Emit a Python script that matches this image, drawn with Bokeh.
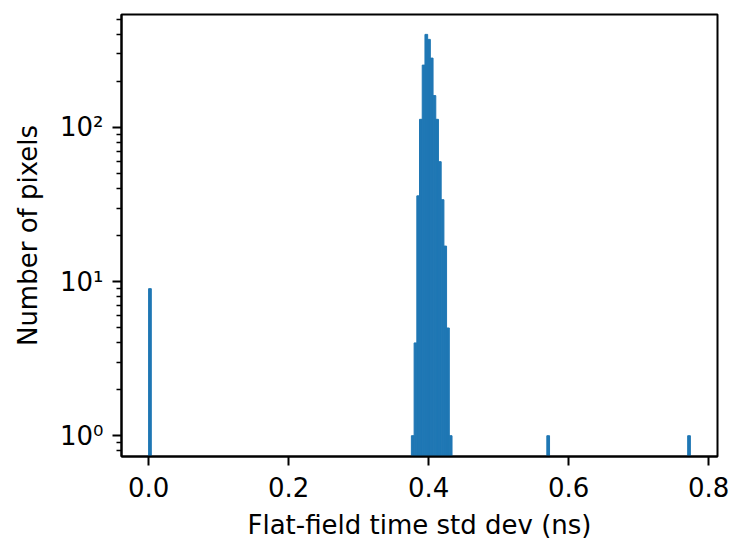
from bokeh.plotting import figure
from bokeh.models import Range1d, FixedTicker
from bokeh.embed import file_html
from bokeh.resources import INLINE

# Histogram data: left edges of non-empty bins (ns) and counts
bin_width = 0.00387
bin_left = [0.0000, 0.3754, 0.3793, 0.3832, 0.3870, 0.3909, 0.3948, 0.3986,
            0.4025, 0.4064, 0.4102, 0.4141, 0.4180, 0.4218, 0.4257, 0.4296,
            0.5689, 0.7701]
counts = [9, 1, 4, 36, 113, 254, 402, 373, 282, 161, 113, 60, 34, 17, 5, 1, 1, 1]

x_ticks = [0.0, 0.2, 0.4, 0.6, 0.8]
x_tick_labels = ["0.0", "0.2", "0.4", "0.6", "0.8"]
y_ticks = [1, 10, 100]
y_tick_labels = ["10⁰", "10¹", "10²"]
y_minor = [0.8, 0.9] + [k for k in range(2, 10)] + [10 * k for k in range(2, 10)] + [100 * k for k in range(2, 6)]

FONT = "DejaVu Sans"
FS = "26px"

p = figure(width=738, height=542, output_backend="svg", toolbar_location=None,
           y_axis_type="log",
           x_range=Range1d(-0.0387, 0.8127), y_range=Range1d(0.733, 541))
p.min_border_left = 121
p.min_border_right = 21
p.min_border_top = 14
p.min_border_bottom = 82

right = [b + bin_width for b in bin_left]
bottom = [0.1] * len(counts)
p.quad(left=bin_left, right=right, top=counts, bottom=bottom,
       fill_color="#1f77b4", line_color="#1f77b4", line_width=1)

p.grid.visible = False
p.outline_line_color = "black"
p.outline_line_width = 2
p.outline_line_alpha = 1
p.background_fill_color = "white"
p.border_fill_color = "white"

p.xaxis.ticker = FixedTicker(ticks=x_ticks)
p.xaxis.major_label_overrides = {t: l for t, l in zip(x_ticks, x_tick_labels)}
p.yaxis.ticker = FixedTicker(ticks=y_ticks, minor_ticks=y_minor)
p.yaxis.major_label_overrides = {t: l for t, l in zip(y_ticks, y_tick_labels)}

p.xaxis.axis_label = "Flat-field time std dev (ns)"
p.yaxis.axis_label = "Number of pixels"

for ax in (p.xaxis[0], p.yaxis[0]):
    ax.axis_line_width = 2
    ax.axis_line_color = "black"
    ax.major_tick_in = 0
    ax.major_tick_out = 9
    ax.major_tick_line_width = 2
    ax.minor_tick_in = 0
    ax.minor_tick_out = 5
    ax.minor_tick_line_width = 1.5
    ax.major_label_text_font = FONT
    ax.major_label_text_font_size = FS
    ax.major_label_text_color = "black"
    ax.axis_label_text_font = FONT
    ax.axis_label_text_font_size = FS
    ax.axis_label_text_font_style = "normal"
    ax.axis_label_text_color = "black"

p.xaxis.minor_tick_out = 0
p.xaxis.major_label_standoff = 11
p.xaxis.axis_label_standoff = 10
p.yaxis.major_label_standoff = 9
p.yaxis.axis_label_standoff = 14

open("out.html", "w").write(file_html(p, INLINE))
